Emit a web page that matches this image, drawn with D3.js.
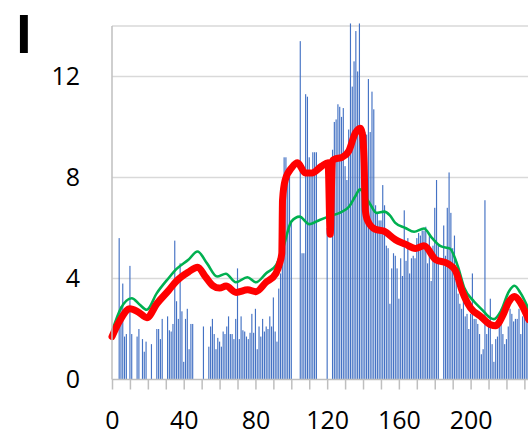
<!DOCTYPE html>
<html>
<head>
<meta charset="utf-8">
<script src="https://cdn.jsdelivr.net/npm/d3@7"></script>
<style>
  html, body { margin: 0; padding: 0; background: #fff; }
  svg { display: block; }
</style>
</head>
<body>
<div id="chart"></div>
<script>
// daily bar values, index = day
const barValues = [
  0, 0, 0, 0, 5.6, 2.9, 3.8, 1.7, 1.8, 0,
  4.5, 1.8, 0, 0, 1.7, 2.0, 0, 1.6, 1.1, 1.5,
  0, 0, 1.4, 0, 0, 2.0, 2.0, 1.6, 2.4, 0,
  0, 2.5, 1.95, 1.9, 2.2, 5.5, 3.1, 2.4, 4.6, 2.7,
  0.7, 2.4, 2.8, 1.2, 2.2, 2.2, 0, 0, 0, 0,
  0, 2.1, 0, 0, 1.3, 2.1, 2.4, 1.8, 1.2, 1.65,
  1.5, 1.3, 1.9, 1.8, 2.1, 2.5, 1.8, 1.8, 1.6, 2.4,
  4.4, 1.6, 2.5, 1.95, 1.9, 1.7, 1.6, 1.85, 2.6, 1.85,
  2.8, 1.2, 2.1, 1.7, 2.4, 1.9, 2.1, 2.0, 2.5, 2.1,
  3.25, 1.9, 1.5, 3.6, 4.2, 7.4, 8.8, 8.8, 8.3, 8.3,
  6.3, 0, 0, 0, 0, 13.4, 5.0, 5.0, 11.3, 11.2,
  8.8, 8.2, 9.0, 9.0, 9.0, 0, 0, 0, 0, 0,
  6.0, 0, 0, 9.1, 10.2, 10.3, 10.9, 10.8, 10.4, 10.75,
  8.45, 7.9, 9.9, 14.1, 11.6, 12.6, 13.8, 12.2, 14.1, 9.9,
  8.3, 9.8, 9.7, 11.9, 9.8, 11.4, 10.7, 6.9, 6.6, 6.3,
  6.3, 7.7, 6.9, 5.3, 5.2, 3.0, 4.4, 5.0, 4.9, 4.4,
  3.2, 4.8, 4.1, 6.7, 4.7, 5.6, 4.2, 4.8, 4.9, 4.8,
  5.6, 5.8, 5.7, 5.9, 5.9, 6.05, 4.6, 5.7, 3.9, 5.3,
  6.8, 7.9, 5.3, 0, 0, 6.1, 4.9, 6.8, 8.2, 6.6,
  5.2, 5.7, 3.9, 3.4, 3.0, 2.8, 3.4, 2.5, 2.6, 2.0,
  2.6, 4.2, 2.4, 2.4, 2.2, 1.8, 1.0, 1.2, 7.1, 1.8,
  2.2, 3.2, 1.4, 0.7, 1.6, 1.7, 2.1, 2.8, 1.8, 1.4,
  1.6, 2.1, 2.8, 2.6, 2.3, 2.4, 2.4, 2.8, 1.8, 2.5,
  2.5, 2.8, 2.6
];

// thick red curve
const redDays = [
  0, 4.5, 10, 14.5, 19.5, 25, 31.5, 36, 42.5, 47.8,
  52, 56.2, 60, 63.6, 69.2, 75.7, 80.3, 85.9, 91.4, 93.5,
  94.7, 95.1, 96.6, 100.4, 103.5, 107.8, 111.5, 117, 120.5, 121.7,
  122.9, 124, 128.3, 132, 135.7, 138.4, 139.8, 140.6, 141.3, 142.5,
  146.8, 151.5, 158, 163.6, 169.2, 174, 180.5, 187, 191.6, 195.3,
  200, 205.6, 211.2, 214, 217.7, 221.4, 224.6, 227.9, 232.4
];
const redValues = [
  1.7, 2.35, 2.8, 2.68, 2.45, 3.0, 3.52, 3.9, 4.25, 4.45,
  4.08, 3.72, 3.62, 3.7, 3.45, 3.55, 3.48, 3.85, 4.2, 4.6,
  5.0, 7.1, 7.9, 8.4, 8.58, 8.18, 8.18, 8.45, 8.58, 5.75,
  8.65, 8.72, 8.8, 9.04, 9.76, 9.95, 9.65, 8.6, 6.7, 6.3,
  5.95, 5.88, 5.54, 5.36, 5.19, 5.3, 4.75, 4.6, 4.3, 3.5,
  2.83, 2.5, 2.17, 2.13, 2.5, 3.09, 3.29, 3.03, 2.37
];

// thin green curve
const greenDays = [
  0, 5, 11, 15.5, 19.4, 25, 31.5, 36, 42.6, 47.7,
  53, 58.6, 63.5, 69.1, 75.5, 80.3, 86, 91.6, 95.4, 100,
  104.6, 110, 115.8, 121.4, 127, 132.3, 135.7, 138.3, 141.3, 144.1,
  147.5, 151.8, 155, 158, 163.6, 168.5, 174, 178.3, 183.3, 188.5,
  192.8, 196.5, 201.9, 206.5, 211.2, 213, 216.8, 221.4, 224.5, 227.9,
  232.5
];
const greenValues = [
  1.9, 2.83, 3.22, 2.96, 2.76, 3.42, 4.01, 4.38, 4.74, 5.07,
  4.6, 4.08, 4.19, 3.85, 4.05, 3.85, 4.21, 4.54, 5.2, 6.25,
  6.45, 6.15, 6.32, 6.47, 6.6, 6.85, 7.26, 7.53, 7.25, 6.93,
  6.6, 6.65, 6.5, 6.2, 6.0, 5.85, 5.98, 5.62, 5.28, 5.18,
  4.5, 3.62, 3.09, 2.76, 2.43, 2.39, 2.7, 3.49, 3.71, 3.42,
  2.76
];

const yTicks = [0, 4, 8, 12];
const gridValues = [4, 8, 12, 14];
const xLabelValues = [0, 40, 80, 120, 160, 200];
const xTickValues = d3.range(0, 231, 10);

const width = 528, height = 435;
const plotLeft = 112, plotBottom = 379.5, plotTop = 26;

const svg = d3.select("#chart").append("svg")
    .attr("width", width)
    .attr("height", height)
    .attr("font-family", "'Open Sans', sans-serif");

const x = d3.scaleLinear().domain([0, 240]).range([plotLeft, plotLeft + 240 * 1.793]);
const y = d3.scaleLinear().domain([0, 14]).range([plotBottom, plotTop]);

// horizontal gridlines
svg.append("g")
    .selectAll("line")
    .data(gridValues)
    .join("line")
    .attr("x1", plotLeft)
    .attr("x2", width)
    .attr("y1", d => y(d))
    .attr("y2", d => y(d))
    .attr("stroke", "#d9d9d9")
    .attr("stroke-width", 1.5);

// bars
const bw = 1.15;
svg.append("g")
    .selectAll("rect")
    .data(barValues.map((v, i) => ({ day: i, value: v })).filter(d => d.value > 0))
    .join("rect")
    .attr("x", d => x(d.day) - bw / 2)
    .attr("y", d => y(d.value))
    .attr("width", bw)
    .attr("height", d => plotBottom - y(d.value))
    .attr("fill", "#4472c4");

const line = d3.line()
    .x(d => x(d[0]))
    .y(d => y(d[1]))
    .curve(d3.curveMonotoneX);

svg.append("path")
    .datum(d3.zip(greenDays, greenValues))
    .attr("d", line)
    .attr("fill", "none")
    .attr("stroke", "#00b050")
    .attr("stroke-width", 2.6)
    .attr("stroke-linejoin", "round");

svg.append("path")
    .datum(d3.zip(redDays, redValues))
    .attr("d", line)
    .attr("fill", "none")
    .attr("stroke", "#ff0000")
    .attr("stroke-width", 7)
    .attr("stroke-linejoin", "round")
    .attr("stroke-linecap", "round");

// left axis line
svg.append("line")
    .attr("x1", plotLeft).attr("x2", plotLeft)
    .attr("y1", plotTop).attr("y2", plotBottom)
    .attr("stroke", "#bfbfbf")
    .attr("stroke-width", 1.5);

// bottom axis
svg.append("g")
    .attr("transform", `translate(0,${plotBottom})`)
    .call(d3.axisBottom(x)
        .tickValues(xTickValues)
        .tickSize(10)
        .tickPadding(22)
        .tickFormat(d => xLabelValues.includes(d) ? d : ""))
    .call(g => g.select(".domain")
        .attr("d", `M${plotLeft},0H${width}`)
        .attr("stroke", "#bfbfbf")
        .attr("stroke-width", 1.5))
    .call(g => g.selectAll(".tick line").attr("stroke", "#bfbfbf").attr("stroke-width", 1.5))
    .call(g => g.selectAll("text").attr("font-size", 25).attr("fill", "#000").attr("font-family", "'Open Sans', sans-serif"));

// left labels
svg.append("g")
    .attr("transform", `translate(${plotLeft},0)`)
    .call(d3.axisLeft(y).tickValues(yTicks).tickSize(0).tickPadding(32))
    .call(g => g.select(".domain").remove())
    .call(g => g.selectAll("text").attr("font-size", 25).attr("fill", "#000").attr("font-family", "'Open Sans', sans-serif"));

// panel letter
svg.append("text")
    .attr("x", 24)
    .attr("y", 52.5)
    .attr("text-anchor", "middle")
    .attr("font-family", "'Liberation Sans', Arial, sans-serif")
    .attr("font-size", 55)
    .attr("font-weight", "bold")
    .attr("fill", "#000")
    .text("I");
</script>
</body>
</html>
